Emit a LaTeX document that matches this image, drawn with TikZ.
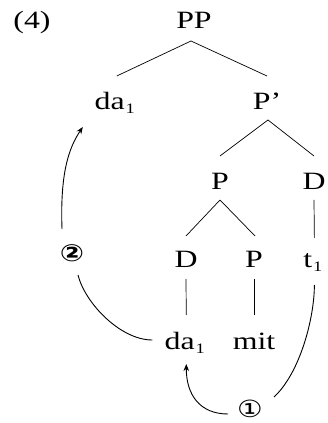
\documentclass[tikz,border=0pt]{standalone}
\usepackage{fontspec}
\setmainfont{Liberation Serif}
\newfontfamily\circfont{DejaVu Sans}
\usetikzlibrary{calc,arrows.meta}
\newcommand{\wide}[1]{\scalebox{1.28}[1]{#1}}
\begin{document}
\begin{tikzpicture}[x=1pt,y=1pt,
  lab/.style={anchor=base,inner sep=0pt,font=\Huge},
  subn/.style={anchor=base west,inner sep=0pt,font=\Large},
  circ/.style={anchor=center,inner sep=0pt,font=\circfont\Huge},
  treeline/.style={line width=0.7pt},
  curve/.style={line width=0.9pt},
  arr/.style={curve,-{Stealth[length=7pt,width=5.5pt]}}]
\useasboundingbox (0,0) rectangle (328,423);
% subscripts
\node[subn] (s1) at (125.5,309) {\wide{1}};
\node[subn] (s2) at (313,151) {\wide{1}};
\node[subn] (s3) at (195.5,69) {\wide{1}};
% labels
\node[lab] (n4) at (32,394) {\wide{(4)}};
\node[lab] (PP) at (194,394) {\wide{PP}};
\node[lab,anchor=base east] (da) at ($(s1.base west)+(-0.5,4)$) {\wide{da}};
\node[lab] (Pp) at (267,313) {\wide{P’}};
\node[lab] (P1) at (220,233) {\wide{P}};
\node[lab] (D1) at (314,233) {\wide{D}};
\node[lab] (D2) at (186,155) {\wide{D}};
\node[lab] (P2) at (254,155) {\wide{P}};
\node[lab,anchor=base east] (t) at ($(s2.base west)+(-0.5,4)$) {\wide{t}};
\node[lab,anchor=base east] (da2) at ($(s3.base west)+(-0.5,4)$) {\wide{da}};
\node[lab] (mit) at (254,73) {\wide{mit}};
\node[circ] (c1) at (250,14) {\scalebox{1.15}[0.95]{①}};
\node[circ] (c2) at (72,170) {\scalebox{1.15}[0.95]{\bfseries ②}};
% tree edges
\draw[treeline] ($(PP.base)+(-3,-12)$) -- ($(da.base)+(7,34)$);
\draw[treeline] ($(PP.base)+(-3,-12)$) -- ($(Pp.base)+(0,34)$);
\draw[treeline] ($(Pp.base)+(1,-10)$) -- ($(P1.base)+(0,34)$);
\draw[treeline] ($(Pp.base)+(1,-10)$) -- ($(D1.base)+(0,34)$);
\draw[treeline] ($(P1.base)+(0,-10)$) -- ($(D2.base)+(0,32)$);
\draw[treeline] ($(P1.base)+(0,-10)$) -- ($(P2.base)+(1,32)$);
\draw[treeline] ($(D1.base)+(0,-10)$) -- ($(t.base)+(6.5,30)$);
\draw[treeline] ($(D2.base)+(0,-11)$) -- ($(da2.base)+(6.5,35)$);
\draw[treeline] ($(P2.base)+(0,-11)$) -- ($(mit.base)+(0,35)$);
% movement curves
\draw[arr] ($(c1.center)+(-22,-5)$) .. controls ($(c1.center)+(-50,-5)$) and ($(da2.base)+(6.5,-45)$) .. ($(da2.base)+(6.5,-14)$);
\draw[curve] ($(c1.center)+(24,12)$) .. controls ($(c1.center)+(50,36)$) and ($(t.base)+(6.5,-50)$) .. ($(t.base)+(6.5,-17)$);
\draw[curve] ($(da2.base)+(-27.5,10)$) .. controls ($(da2.base)+(-59.5,10)$) and ($(c2.center)+(13,-50)$) .. ($(c2.center)+(6,-22)$);
\draw[arr] ($(c2.center)+(-10,24)$) .. controls ($(c2.center)+(-12,80)$) and ($(da.base)+(-41,-38)$) .. ($(da.base)+(-27,-17)$);
\end{tikzpicture}
\end{document}
